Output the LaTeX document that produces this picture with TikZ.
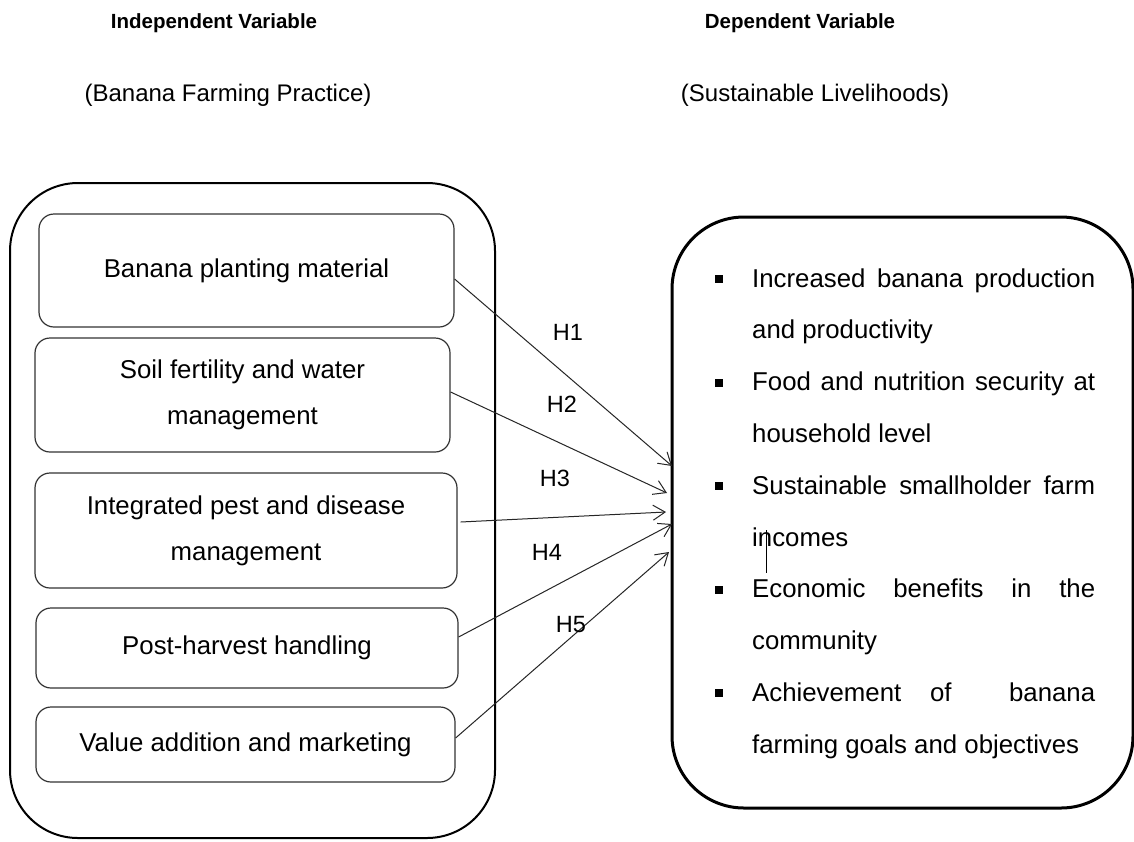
\documentclass[tikz,border=0pt]{standalone}
\usepackage{fontspec}
\setmainfont{Liberation Sans}
\usetikzlibrary{arrows.meta,calc}
\begin{document}
\begin{tikzpicture}[x=1pt,y=-1pt,
  inbox/.style={draw=black!80, line width=1.2pt, rounded corners=15pt,
    font=\fontsize{25.8}{46}\selectfont, align=center, inner sep=0pt},
  outbox/.style={draw=black, inner sep=0pt},
  hyp/.style={font=\fontsize{23.5}{28}\selectfont, inner sep=0pt},
  link/.style={draw=black!85, line width=1pt, -{Straight Barb[length=12pt,width=15pt]}},
  txt/.style={font=\fontsize{25.8}{30}\selectfont, anchor=base west, inner sep=0pt},
  blt/.style={fill=black, minimum size=8pt, inner sep=0pt},
  head/.style={font=\fontsize{20.5}{24}\selectfont\bfseries, inner sep=0pt},
  sub/.style={font=\fontsize{24}{28}\selectfont, inner sep=0pt},
  ]
\useasboundingbox (0,0) rectangle (1134,841);
\fill[white] (0,0) rectangle (1134,841);

% headers
\node[head] (h1) at (214,23) {Independent Variable};
\node[sub]  (s1) at (228,95) {(Banana Farming Practice)};
\node[head] (h2) at (800,23) {Dependent Variable};
\node[sub]  (s2) at (815,95) {(Sustainable Livelihoods)};

% outer boxes
\node[outbox, line width=2pt, rounded corners=68pt, minimum width=485pt, minimum height=655pt] (lb) at (252.5,510.5) {};
\node[outbox, line width=3pt, rounded corners=72pt, minimum width=461pt, minimum height=591pt] (rb) at (902.5,512.5) {};

% inner boxes
\node[inbox, minimum width=415pt, minimum height=113pt] (b1) at (246.5,270.5) {Banana planting material};
\node[inbox, minimum width=415pt, minimum height=114pt] (b2) at (242.5,395) {Soil fertility and water\\management};
\node[inbox, minimum width=422pt, minimum height=115pt] (b3) at (246,530.5) {Integrated pest and disease\\management};
\node[inbox, minimum width=422pt, minimum height=80pt] (b4) at (247,648) {Post-harvest handling};
\node[inbox, minimum width=419pt, minimum height=75pt] (b5) at (245.5,744.5) {Value addition and marketing};

% arrow targets
\coordinate (t1) at (672,466);
\coordinate (t2) at (667,493);
\coordinate (t3) at (666,512);
\coordinate (t4) at (672,524);
\coordinate (t5) at (669,552);

\draw[link] ([yshift=-8.5pt]b1.east) -- (t1);
\draw[link] ([yshift=3pt]b2.east) -- (t2);
\draw[link] ([yshift=8.5pt,xshift=3pt]b3.east) -- (t3);
\draw[link] ([yshift=11pt]b4.east) -- (t4);
\draw[link] ([yshift=6.5pt]b5.east) -- (t5);

% hypothesis labels
\node[hyp] (l1) at (568,332) {H1};
\node[hyp] (l2) at (562,404) {H2};
\node[hyp] (l3) at (555,478) {H3};
\node[hyp] (l4) at (547,552) {H4};
\node[hyp] (l5) at (571,625) {H5};

% right box content
\node[blt] (p1) at (719,279) {};
\node[blt] (p2) at (719,382.6) {};
\node[blt] (p3) at (719,486.2) {};
\node[blt] (p4) at (719,589.8) {};
\node[blt] (p5) at (719,693.4) {};

\node[txt] (r1) at (752,287) {\hbox to 343pt{Increased\hfill banana\hfill production}};
\node[txt] (r2) at (752,338.8) {and productivity};
\node[txt] (r3) at (752,390.6) {\hbox to 343pt{Food\hfill and\hfill nutrition\hfill security\hfill at}};
\node[txt] (r4) at (752,442.4) {household level};
\node[txt] (r5) at (752,494.2) {\hbox to 343pt{Sustainable\hfill smallholder\hfill farm}};
\node[txt] (r6) at (752,546) {incomes};
\node[txt] (r7) at (752,597.8) {\hbox to 343pt{Economic\hfill benefits\hfill in\hfill the}};
\node[txt] (r8) at (752,649.6) {community};
\node[txt] (r9) at (752,701.4) {\hbox to 343pt{Achievement\hfill of\hfill\hfill banana}};
\node[txt] (r10) at (752,753.2) {farming goals and objectives};

% stray cursor mark
\draw[line width=1pt] (766,530) -- (766,573);
\end{tikzpicture}
\end{document}
